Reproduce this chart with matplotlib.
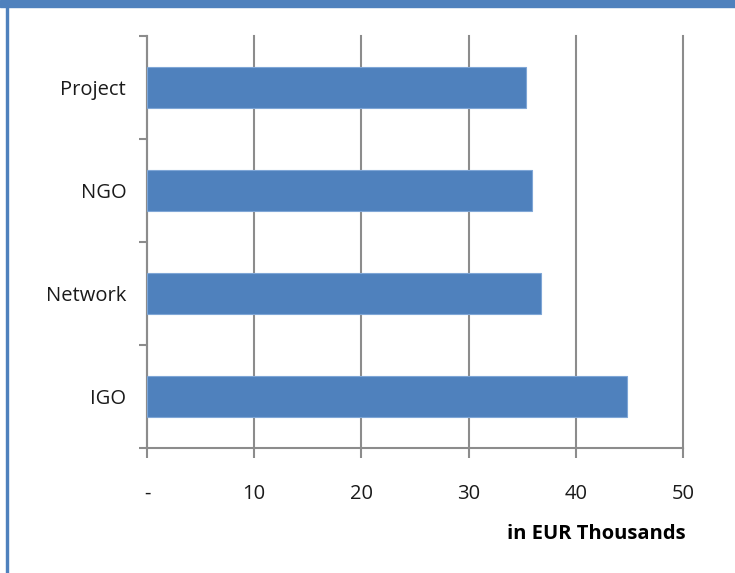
import numpy as np
import matplotlib.pyplot as plt
from matplotlib.patches import Rectangle

categories = ["IGO", "Network", "NGO", "Project"]
values = [44.8, 36.8, 35.9, 35.4]
xticks = [0, 10, 20, 30, 40, 50]
xtick_labels = ["-", "10", "20", "30", "40", "50"]

blue = "#4f81bd"
grey = "#8c8c8c"

fig = plt.figure(figsize=(7.35, 5.73), dpi=100)
W, H = 735, 573
ax = fig.add_axes([147 / W, 1 - 448 / H, (683 - 147) / W, (448 - 36) / H])

y = np.arange(len(categories))
ax.barh(y, values, height=0.39, color=blue, edgecolor="#7fa6d6", linewidth=0.8, zorder=3)

ax.set_xlim(0, 50)
ax.set_ylim(-0.5, len(categories) - 0.5)
ax.set_xticks(xticks)
ax.set_xticklabels(xtick_labels)
ax.set_yticks(y)
ax.set_yticklabels(categories)
ax.set_yticks(np.arange(-0.5, len(categories)), minor=True)

ax.grid(axis="x", color=grey, linewidth=1.5, zorder=0)
for gl in ax.get_xgridlines():
    gl.set_clip_on(False)
for s in ["top", "right"]:
    ax.spines[s].set_visible(False)
for s in ["left", "bottom"]:
    ax.spines[s].set_color(grey)
    ax.spines[s].set_linewidth(1.5)

ax.tick_params(axis="x", length=7, width=1.5, color=grey, pad=19, labelsize=14.5)
ax.tick_params(axis="y", which="major", length=0, pad=15, labelsize=14.5)
ax.tick_params(axis="y", which="minor", length=6, width=1.5, color=grey)
for lab in ax.get_xticklabels() + ax.get_yticklabels():
    lab.set_fontfamily("Open Sans")
    lab.set_color("#1a1a1a")

fig.text(686 / W, 1 - 534 / H, "in EUR Thousands", ha="right", va="center",
         fontsize=14.5, fontweight="bold", family="Open Sans", color="black")

# frame: header bar and left border
fig.patches.append(Rectangle((0, 1 - 7 / H), 1, 7 / H, transform=fig.transFigure,
                             color=blue, zorder=0))
fig.patches.append(Rectangle((6 / W, 0), 2 / W, 1, transform=fig.transFigure,
                             color=blue, zorder=0))

fig.savefig("out.png", dpi=100)
